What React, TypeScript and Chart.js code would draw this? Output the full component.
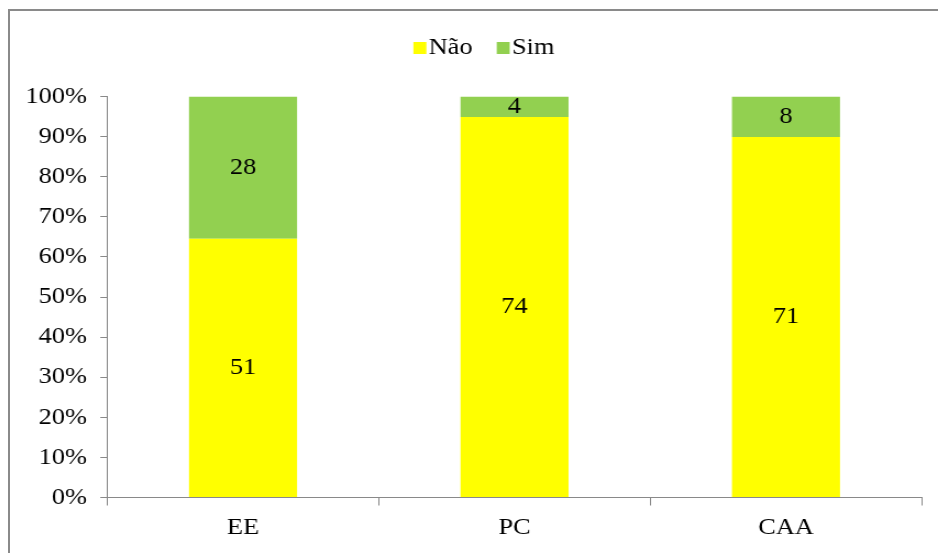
import React, { useEffect, useRef } from 'react';
import { Chart, registerables } from 'chart.js';

Chart.register(...registerables);

const categories = ['EE', 'PC', 'CAA'];
const seriesNames = ['Não', 'Sim'];
const naoValues = [51, 74, 71];
const simValues = [28, 4, 8];
const seriesColors = ['#FFFF00', '#92D050'];

const FONT = "'Liberation Serif', 'Times New Roman', serif";
const FONT_SIZE = 24;
const CANVAS_W = 844;
const CANVAS_H = 542;
const SX = 928 / CANVAS_W;
const AXIS_COLOR = '#898989';

export default function App() {
  const ref = useRef<HTMLCanvasElement>(null);

  useEffect(() => {
    if (!ref.current) return;
    const totals = categories.map((_, i) => naoValues[i] + simValues[i]);
    const pct = (arr: number[]) => arr.map((v, i) => (v / totals[i]) * 100);
    const counts = [naoValues, simValues];

    const legendPlugin = {
      id: 'customLegend',
      afterDraw(chart: any) {
        const ctx = chart.ctx;
        ctx.save();
        ctx.font = `${FONT_SIZE}px ${FONT}`;
        const boxW = 11.8, boxH = 12, gap = 2, spacing = 22;
        const items = chart.data.datasets.map((ds: any) => ({
          text: ds.label,
          color: ds.backgroundColor,
          w: ctx.measureText(ds.label).width,
        }));
        const total = items.reduce((s: number, it: any) => s + boxW + gap + it.w, 0) + spacing * (items.length - 1);
        let x = 431 - total / 2;
        const yMid = 36.5;
        ctx.textBaseline = 'middle';
        ctx.textAlign = 'left';
        items.forEach((it: any) => {
          ctx.fillStyle = it.color;
          ctx.fillRect(x, yMid - 5.5, boxW, boxH);
          ctx.fillStyle = '#000';
          ctx.fillText(it.text, x + boxW + gap, yMid);
          x += boxW + gap + it.w + spacing;
        });
        ctx.restore();
      },
    };

    const labelPlugin = {
      id: 'segmentLabels',
      afterDatasetsDraw(chart: any) {
        const ctx = chart.ctx;
        ctx.save();
        ctx.font = `${FONT_SIZE}px ${FONT}`;
        ctx.fillStyle = '#000';
        ctx.textAlign = 'center';
        ctx.textBaseline = 'middle';
        chart.data.datasets.forEach((_: any, di: number) => {
          const meta = chart.getDatasetMeta(di);
          meta.data.forEach((el: any, i: number) => {
            const p = el.getCenterPoint();
            ctx.fillText(String(counts[di][i]), p.x, p.y);
          });
        });
        ctx.restore();
      },
    };

    const chart = new Chart(ref.current, {
      type: 'bar',
      data: {
        labels: categories,
        datasets: [
          { label: seriesNames[0], data: pct(naoValues), backgroundColor: seriesColors[0], borderWidth: 0 },
          { label: seriesNames[1], data: pct(simValues), backgroundColor: seriesColors[1], borderWidth: 0 },
        ],
      },
      options: {
        responsive: false,
        animation: false,
        events: [],
        layout: { padding: { top: 85.5, left: 0, right: 14.8, bottom: 0 } },
        datasets: { bar: { barPercentage: 0.398, categoryPercentage: 1 } },
        plugins: {
          legend: { display: false },
          tooltip: { enabled: false },
          title: { display: false },
        },
        scales: {
          x: {
            stacked: true,
            grid: { offset: true, drawOnChartArea: false, drawTicks: true, tickLength: 8, color: AXIS_COLOR },
            border: { display: true, color: AXIS_COLOR, width: 1 },
            ticks: { font: { family: FONT, size: FONT_SIZE }, color: '#000', padding: 8 },
            afterFit: (s: any) => { s.height = 55.5; },
          },
          y: {
            stacked: true,
            min: 0,
            max: 100,
            ticks: {
              stepSize: 10,
              callback: (v: any) => v + '%',
              font: { family: FONT, size: FONT_SIZE },
              color: '#000',
              padding: 12,
            },
            grid: { drawOnChartArea: false, drawTicks: true, tickLength: 6.4, color: AXIS_COLOR },
            border: { display: true, color: AXIS_COLOR, width: 1 },
            afterFit: (s: any) => { s.width = 88.5; },
          },
        },
      },
      plugins: [labelPlugin, legendPlugin],
    });
    return () => chart.destroy();
  }, []);

  return (
    <div
      style={{
        position: 'fixed',
        left: 8,
        top: 9,
        width: 960,
        height: 580,
        borderLeft: '2px solid #8a8a8a',
        borderTop: '2px solid #8a8a8a',
        boxSizing: 'border-box',
        background: '#fff',
        overflow: 'hidden',
      }}
    >
      <div
        style={{
          position: 'absolute',
          left: 0,
          top: 0,
          width: CANVAS_W,
          height: CANVAS_H,
          transform: `scaleX(${SX})`,
          transformOrigin: 'left top',
        }}
      >
        <canvas ref={ref} width={CANVAS_W} height={CANVAS_H} style={{ display: 'block', width: CANVAS_W, height: CANVAS_H }} />
      </div>
    </div>
  );
}
